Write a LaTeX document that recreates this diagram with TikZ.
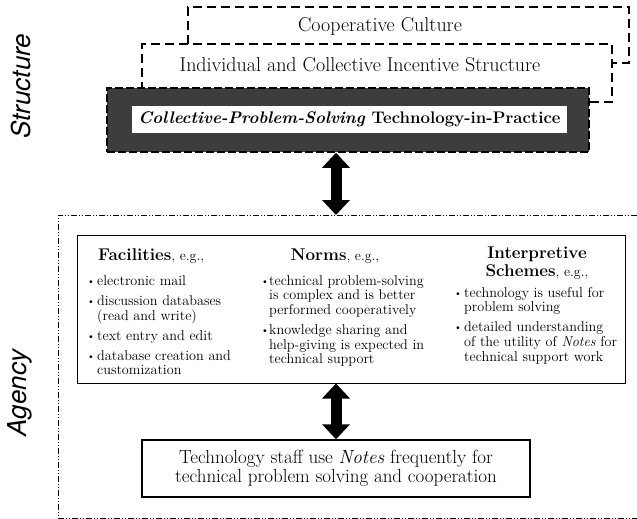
\documentclass[tikz,border=0pt]{standalone}
\usepackage{fontspec}
\setsansfont{TeX Gyre Heros}
\usetikzlibrary{arrows.meta}
\newcommand{\egsmall}{{\fontsize{14}{15}\selectfont, e.g.,}}
\newcommand{\bul}{\raisebox{0.8pt}{\fontsize{10}{10}\selectfont\textbullet}}

\begin{document}
\begin{tikzpicture}[
  x=1pt,
  y=-1pt,
  dashbox/.style={draw=black,fill=white,line width=1.8pt,dash pattern=on 9pt off 5pt,inner sep=0pt},
  darkbox/.style={draw=black,fill=black!76,line width=1.5pt,dash pattern=on 8pt off 3pt,inner sep=0pt},
  plainbox/.style={draw=black,fill=white,inner sep=0pt},
  frameline/.style={draw=black,line width=0.6pt,dash pattern=on 6pt off 2pt on 1pt off 2pt on 1pt off 2pt},
  dblarrow/.style={line width=11pt,>={Triangle[width=27pt,length=15pt]},<->},
  side/.style={rotate=90,font=\fontsize{26}{26}\selectfont\sffamily\itshape},
  title/.style={font=\fontsize{20}{22}\selectfont,inner sep=0pt},
  head/.style={font=\fontsize{17}{18}\selectfont,inner sep=0pt},
  body/.style={font=\fontsize{14.2}{14.7}\selectfont,inner sep=0pt}
]
  \useasboundingbox (0,0) rectangle (637,519);
  \node[side] (struct) at (21,86) {Structure};
  \node[side] (agency) at (20,393) {Agency};

  \node[dashbox,minimum width=441pt,minimum height=56pt] (coop) at (408.5,35) {};
  \node[title,anchor=base] (cooptxt) at (380,32) {Cooperative Culture};
  \node[dashbox,minimum width=470pt,minimum height=58pt] (incent) at (377,73) {};
  \node[title,anchor=base] (incenttxt) at (360,71) {Individual and Collective Incentive Structure};
  \node[darkbox,minimum width=482pt,minimum height=64pt] (practice) at (348,120) {};
  \node[fill=white,inner sep=0pt,minimum width=435pt,minimum height=27pt,font=\fontsize{16.8}{18}\selectfont\bfseries] (practxt) at (349.5,119.5) {\textit{Collective-Problem-Solving} Technology-in-Practice};

  \coordinate (agtop) at (336,215);
  \draw[frameline] (637,215) -- (58,215) -- (58,518) -- (637,518);
  \draw[dblarrow] (practice.south -| agtop) -- (agtop);

  \node[plainbox,line width=1pt,minimum width=548pt,minimum height=148pt] (props) at (351,309) {};
  \node[head,anchor=base west] (fac) at (98,260) {\textbf{Facilities}\egsmall};
  \node[head,anchor=base] (norms) at (335,260) {\textbf{Norms}\egsmall};
  \node[head,anchor=base] (interp) at (537,258) {\begin{tabular}[t]{@{}c@{}}\textbf{Interpretive}\\\textbf{Schemes}\egsmall\end{tabular}};
  \node[body,anchor=base west] (faclist) at (87,285) {\begin{tabular}[t]{@{}p{10pt}@{}l@{}}
    \bul & electronic mail\\[5.3pt]
    \bul & discussion databases\\ & (read and write)\\[5.3pt]
    \bul & text entry and edit\\[5.3pt]
    \bul & database creation and\\ & customization
  \end{tabular}};
  \node[body,anchor=base west] (normlist) at (261,285) {\begin{tabular}[t]{@{}p{8pt}@{}l@{}}
    \bul & technical problem-solving\\ & is complex and is better\\ & performed cooperatively\\[5.3pt]
    \bul & knowledge sharing and\\ & help-giving is expected in\\ & technical support
  \end{tabular}};
  \node[body,anchor=base west] (interplist) at (454,297) {\begin{tabular}[t]{@{}p{10pt}@{}l@{}}
    \bul & technology is useful for\\ & problem solving\\[5.3pt]
    \bul & detailed understanding\\ & of the utility of \textit{Notes} for\\ & technical support work
  \end{tabular}};

  \node[plainbox,line width=1.4pt,minimum width=388pt,minimum height=57pt,align=center,font=\fontsize{19}{19.5}\selectfont] (usage) at (336,468.5) {Technology staff use \textit{Notes} frequently for\\technical problem solving and cooperation};
  \draw[dblarrow] (props.south -| usage.north) -- (usage.north);
\end{tikzpicture}
\end{document}
